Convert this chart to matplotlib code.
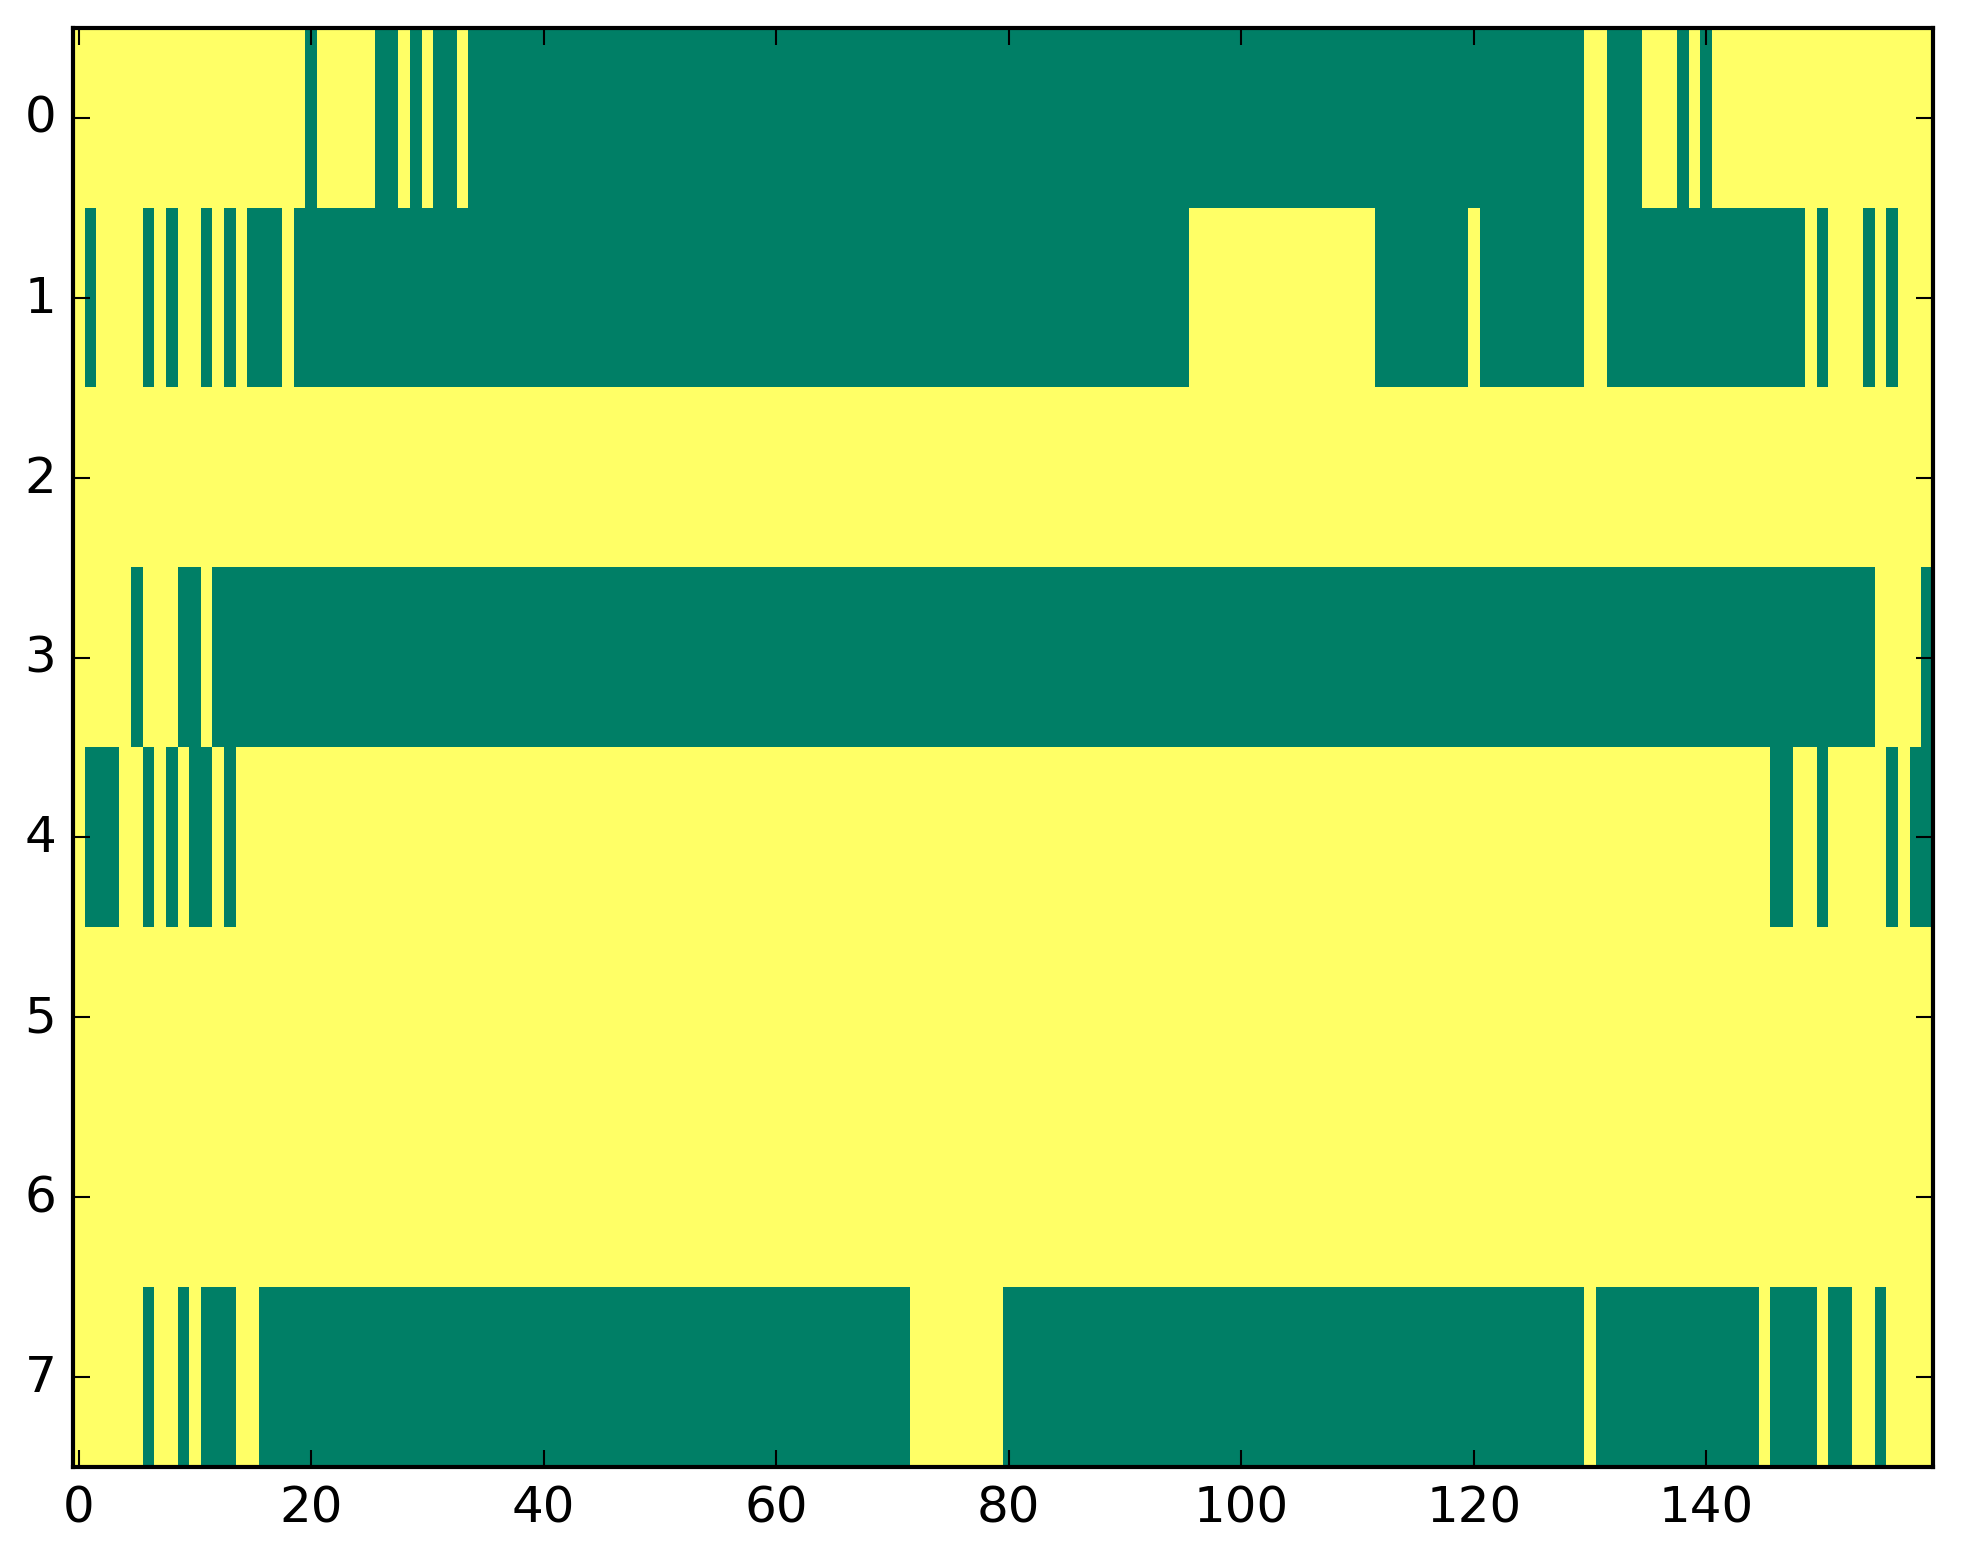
import numpy as np
import matplotlib
matplotlib.use("Agg")
import matplotlib.pyplot as plt

# Each row given as run-length pairs (value, count); 1 = high (yellow), 0 = low (green)
row0 = [(1, 20), (0, 1), (1, 5), (0, 2), (1, 1), (0, 1), (1, 1), (0, 2), (1, 1),
        (0, 96), (1, 2), (0, 3), (1, 3), (0, 1), (1, 1), (0, 1), (1, 19)]
row1 = [(1, 1), (0, 1), (1, 4), (0, 1), (1, 1), (0, 1), (1, 2), (0, 1), (1, 1),
        (0, 1), (1, 1), (0, 3), (1, 1), (0, 77), (1, 16), (0, 8), (1, 1), (0, 9),
        (1, 2), (0, 17), (1, 1), (0, 1), (1, 3), (0, 1), (1, 1), (0, 1), (1, 3)]
row2 = [(1, 160)]
row3 = [(1, 5), (0, 1), (1, 3), (0, 2), (1, 1), (0, 143), (1, 4), (0, 1)]
row4 = [(1, 1), (0, 3), (1, 2), (0, 1), (1, 1), (0, 1), (1, 1), (0, 2), (1, 1),
        (0, 1), (1, 132), (0, 2), (1, 2), (0, 1), (1, 5), (0, 1), (1, 1), (0, 2)]
row5 = [(1, 160)]
row6 = [(1, 160)]
row7 = [(1, 6), (0, 1), (1, 2), (0, 1), (1, 1), (0, 3), (1, 2), (0, 56), (1, 8),
        (0, 50), (1, 1), (0, 14), (1, 1), (0, 4), (1, 1), (0, 2), (1, 2), (0, 1), (1, 4)]

rows = [row0, row1, row2, row3, row4, row5, row6, row7]


def expand(runs):
    return np.concatenate([np.full(n, v, dtype=float) for v, n in runs])


data = np.vstack([expand(r) for r in rows])
assert data.shape == (8, 160)

plt.style.use("classic")
W, H, DPI = 1963, 1564, 300
fig = plt.figure(figsize=(W / DPI, H / DPI), dpi=DPI, facecolor="white")
ax = fig.add_axes([73 / W, (H - 1468) / H, 1860 / W, 1439 / H])
ax.imshow(data, cmap="summer", aspect="auto", interpolation="nearest",
          vmin=0, vmax=1)
ax.set_xticks(np.arange(0, 160, 20))
ax.set_yticks(np.arange(0, 8, 1))
ax.set_xlim(-0.5, 159.5)
ax.set_ylim(7.5, -0.5)
ax.tick_params(labelsize=12)

fig.savefig("out.png", dpi=DPI, facecolor="white")
